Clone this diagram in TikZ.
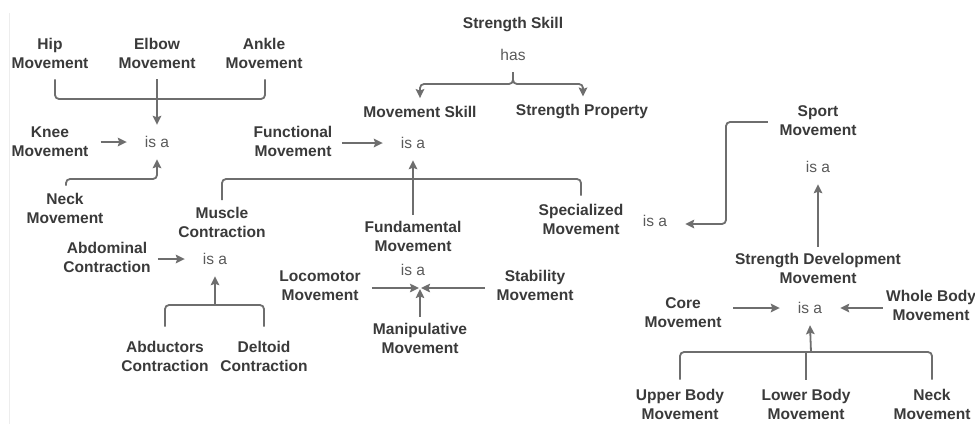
\documentclass[tikz,border=0pt]{standalone}
\usepackage{fontspec}
\setmainfont{Liberation Sans}
\usetikzlibrary{arrows.meta,calc}
\definecolor{txt}{HTML}{3A3A3A}
\definecolor{reltxt}{HTML}{5A5A5A}
\definecolor{ln}{HTML}{6E6E6E}
\definecolor{edge}{HTML}{EDEDED}
\begin{document}
\begin{tikzpicture}[x=1bp,y=-1bp,
  lab/.style={font=\fontsize{15.6}{19}\selectfont\bfseries, text=txt, align=center, inner sep=0pt},
  rel/.style={font=\fontsize{15.6}{19}\selectfont, text=reltxt, inner sep=0pt, minimum width=60bp, minimum height=34bp},
  conn/.style={draw=ln, line width=1.8bp, rounded corners=4bp},
  arr/.style={conn, -{Stealth[length=9bp,width=8.5bp,inset=1.5bp]}}]
\fill[white] (0,0) rectangle (975,424);
\useasboundingbox (0,0) rectangle (975,424);
\draw[edge, line width=1bp] (9,13) -- (9,424);

% nodes
\node[lab] (strength) at (513,25) {Strength Skill};
\node[rel] (has) at (513,55) {has};
\node[lab] (msk) at (420,112) {Movement Skill};
\node[lab] (sprop) at (582,112) {Strength Property};
\node[lab] (hip) at (50,53.5) {Hip\\Movement};
\node[lab] (elbow) at (157,53.5) {Elbow\\Movement};
\node[lab] (ankle) at (264,53.5) {Ankle\\Movement};
\node[rel] (is1) at (157,142) {is a};
\node[lab] (knee) at (50,141.5) {Knee\\Movement};
\node[lab] (neck) at (65,208) {Neck\\Movement};
\node[lab] (func) at (293,141) {Functional\\Movement};
\node[rel] (is2) at (413,143) {is a};
\node[lab] (muscle) at (222,222) {Muscle\\Contraction};
\node[lab] (fund) at (413,236.5) {Fundamental\\Movement};
\node[lab] (spec) at (581,219.5) {Specialized\\Movement};
\node[lab] (abdom) at (107,257.5) {Abdominal\\Contraction};
\node[rel] (is3) at (215,259) {is a};
\node[lab] (abduct) at (165,356.5) {Abductors\\Contraction};
\node[lab] (delt) at (264,356.5) {Deltoid\\Contraction};
\node[rel] (is4) at (413,270) {is a};
\node[lab] (loco) at (320,285.5) {Locomotor\\Movement};
\node[lab] (stab) at (535,285.5) {Stability\\Movement};
\node[lab] (manip) at (420,338.5) {Manipulative\\Movement};
\node[rel] (is5) at (655,221) {is a};
\node[lab] (sport) at (818,121) {Sport\\Movement};
\node[rel] (is6) at (818,167) {is a};
\node[lab] (sdm) at (818,268.5) {Strength Development\\Movement};
\node[rel] (is7) at (810,308) {is a};
\node[lab] (core) at (683,312.5) {Core\\Movement};
\node[lab] (whole) at (931,305.5) {Whole Body\\Movement};
\node[lab] (upper) at (680,404.5) {Upper Body\\Movement};
\node[lab] (lower) at (806,404.5) {Lower Body\\Movement};
\node[lab] (neck2) at (932,404.5) {Neck\\Movement};

% junction coordinates
\coordinate (j1) at (157,99);
\coordinate (n1) at (157,179);
\coordinate (hj) at (513,84);
\coordinate (fj) at (413,179);
\coordinate (aj) at (215,305);
\coordinate (m4) at (420,288);
\coordinate (sj) at (726,224);
\coordinate (bj) at (811,352);

% connectors
\draw[conn] ($(hip.south)+(5,10.5)$) |- (j1) -| ($(ankle.south)+(1,10.5)$);
\draw[arr] ($(elbow.south)+(0,10.5)$) -- (is1.north);
\draw[arr, shorten <=12bp] (knee.east |- is1.west) -- (is1.west);
\draw[arr] ($(neck.north)+(1,-7)$) |- (n1) -- (is1.south);

\draw[arr] (has.south) -- (hj) -| ($(msk.north)+(0,-8)$);
\draw[arr] (has.south) -- (hj) -| ($(sprop.north)+(1,-8)$);

\draw[arr, shorten <=9.5bp] (func.east |- is2.west) -- (is2.west);
\draw[conn] ($(muscle.north)+(0,-6.5)$) |- (fj) -| ($(spec.north)+(0,-8.5)$);
\draw[arr] ($(fund.north)+(0,-6.5)$) -- (is2.south);

\draw[arr, shorten <=7bp] (abdom.east |- is3.west) -- (is3.west);
\draw[conn] ($(abduct.north)+(0,-14.5)$) |- (aj) -| ($(delt.north)+(0,-14.5)$);
\draw[arr] (aj) -- (is3.south);

\draw[arr, shorten <=11bp, shorten >=1bp] (loco.east |- m4) -- (m4);
\draw[arr, shorten <=11.5bp, shorten >=1bp] (stab.west |- m4) -- (m4);
\draw[arr, shorten >=1bp] ($(manip.north)+(0,-6.5)$) -- (m4);

\draw[arr] ($(sport.west)+(-11.5,1)$) -| (sj) -- (sj -| is5.east);
\draw[arr] ($(sdm.north)+(0,-6.5)$) -- (is6.south);

\draw[arr, shorten <=11.5bp] (core.east |- is7.west) -- (is7.west);
\draw[arr, shorten <=3bp] (whole.west |- is7.east) -- (is7.east);
\draw[conn] ($(upper.north)+(0,-9.5)$) |- (bj) -| ($(neck2.north)+(0,-9.5)$);
\draw[conn] ($(lower.north)+(0,-9.5)$) -- (lower.north |- bj);
\draw[arr] (bj) -- (is7.south);
\end{tikzpicture}
\end{document}
